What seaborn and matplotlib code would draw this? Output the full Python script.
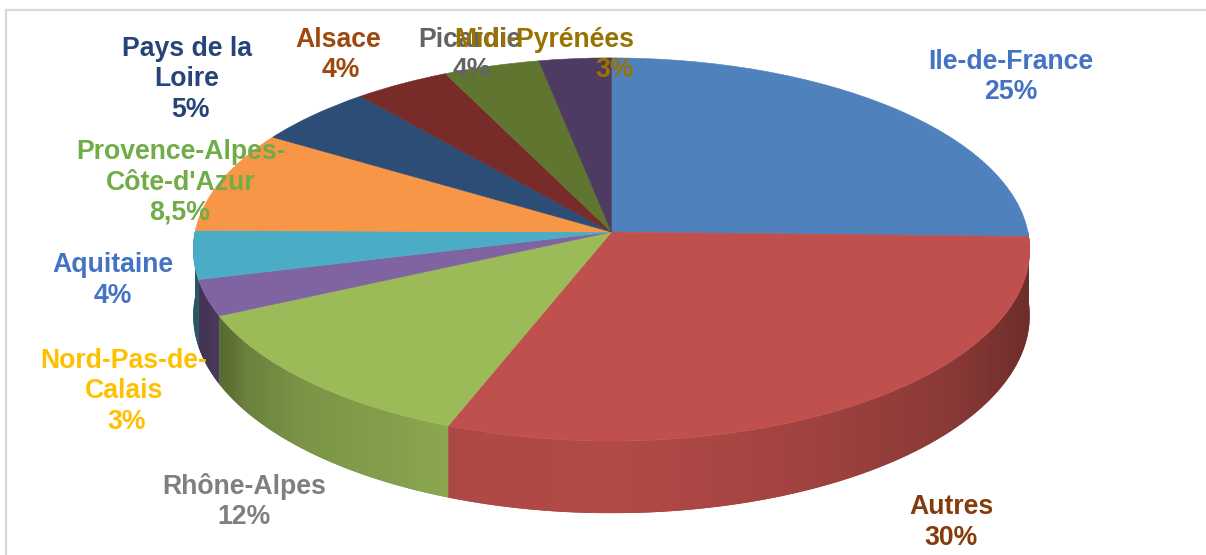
import numpy as np
import matplotlib
matplotlib.use("Agg")
import matplotlib.pyplot as plt
from matplotlib.patches import Polygon
from matplotlib.transforms import Transform
import seaborn as sns

regions = ["Ile-de-France", "Autres", "Rhône-Alpes", "Nord-Pas-de-Calais", "Aquitaine",
           "Provence-Alpes-Côte-d'Azur", "Pays de la Loire", "Alsace", "Picardie", "Midi-Pyrénées"]
shares = [25, 30, 12, 3, 4, 8.5, 5, 4, 4, 3]
share_labels = ["25%", "30%", "12%", "3%", "4%", "8,5%", "5%", "4%", "4%", "3%"]
wrapped_names = ["Ile-de-France", "Autres", "Rhône-Alpes", "Nord-Pas-de-\nCalais", "Aquitaine",
                 "Provence-Alpes-\nCôte-d'Azur", "Pays de la\nLoire", "Alsace", "Picardie", "Midi-Pyrénées"]

slice_colors = sns.color_palette(["#4f81bd", "#c0504d", "#9bbb59", "#8064a2", "#4bacc6",
                                  "#f79646", "#2c4d75", "#772c2a", "#5f7530", "#4d3b62"])
label_colors = ["#4472c4", "#843c0c", "#7f7f7f", "#ffc000", "#4472c4",
                "#70ad47", "#264478", "#9e480e", "#636363", "#997300"]
name_xy = [(1011, 62), (951, 507), (244, 486), (124, 361), (113, 265),
           (181, 152), (187, 49), (338, 40), (470, 40), (544, 40)]
value_xy = [(1011, 92), (951, 538), (244, 517), (127, 422), (113, 296),
            (180, 213), (190, 110), (341, 70), (472, 70), (615, 70)]

# Screen geometry of the tilted disc, in pixels
CX, CY = 611.5, 232.0
RX, RY = 416.5, 190.0
TILT = 0.0914
DEPTH = 65.5

# Brightness of the side wall from the left edge to the right edge of the disc
wall_x = [193, 230, 245, 300, 470, 611, 800, 950, 1030]
wall_shade = [0.50, 0.60, 0.69, 0.79, 0.91, 0.93, 0.84, 0.72, 0.57]


class TiltedDisc(Transform):
    """Perspective view of the unit disc, output in pixel coordinates."""
    input_dims = 2
    output_dims = 2
    is_separable = False
    has_inverse = False

    def transform_non_affine(self, values):
        values = np.asarray(values, dtype=float)
        w = 1 + TILT * values[:, 1]
        return np.column_stack([CX + RX * values[:, 0] / w, CY - RY * values[:, 1] / w])


sns.set_theme(style="white")
plt.rcParams["font.family"] = ["Liberation Sans", "DejaVu Sans"]

fig = plt.figure(figsize=(12.06, 5.55), dpi=100, facecolor="white")
ax = fig.add_axes([0, 0, 1, 1])

wedges, _ = ax.pie(shares, colors=slice_colors, startangle=90, counterclock=False, radius=1,
                   wedgeprops={"linewidth": 0.4, "zorder": 3})

tilt = TiltedDisc()
for wedge, color in zip(wedges, slice_colors):
    wedge.set_transform(tilt + ax.transData)
    wedge.set_edgecolor(color)

    # Side wall: only the part of the rim on the viewer's side of the disc
    t1, t2 = sorted((wedge.theta1, wedge.theta2))
    if t2 > 180:
        t1, t2 = t1 - 360, t2 - 360
    lo, hi = max(t1, -180), min(t2, 0)
    if hi <= lo:
        continue
    th = np.radians(np.linspace(lo, hi, 80))
    rim = tilt.transform_non_affine(np.column_stack([np.cos(th), np.sin(th)]))
    lower = rim + np.column_stack([np.zeros_like(th), DEPTH / (1 + TILT * np.sin(th))])
    outline = Polygon(np.vstack([rim, lower[::-1]]), closed=True, transform=ax.transData,
                      facecolor=tuple(np.array(color) * np.interp(rim[:, 0].mean(), wall_x, wall_shade)),
                      edgecolor="none", zorder=1.9)
    ax.add_patch(outline)

    # Horizontal shading across the wall, cut to the wall's outline
    x0, x1 = rim[:, 0].min(), rim[:, 0].max()
    columns = np.linspace(x0, x1, max(int(x1 - x0), 2))
    shade = np.interp(columns, wall_x, wall_shade)
    texture = shade[None, :, None] * np.array(color)[None, None, :]
    image = ax.imshow(texture, extent=(x0, x1, lower[:, 1].max(), rim[:, 1].min()),
                      aspect="auto", interpolation="bilinear", zorder=2)
    image.set_clip_path(outline)

ax.set_aspect("auto")
ax.set_xlim(0, 1206)
ax.set_ylim(555, 0)
ax.axis("off")

# Chart area border (left and top sides)
ax.plot([6, 6, 1206], [555, 10, 10], color="#d9d9d9", lw=1.6, zorder=1, solid_joinstyle="miter")

label_style = {"fontsize": 19.2, "fontweight": "bold", "ha": "center", "va": "center", "zorder": 5}
for name, value, color, nxy, vxy in zip(wrapped_names, share_labels, label_colors, name_xy, value_xy):
    for i, line in enumerate(name.split("\n")):
        ax.text(nxy[0], nxy[1] + 30.5 * i, line, color=color, **label_style)
    ax.text(*vxy, value, color=color, **label_style)

fig.savefig("out.png", dpi=100, facecolor="white")
